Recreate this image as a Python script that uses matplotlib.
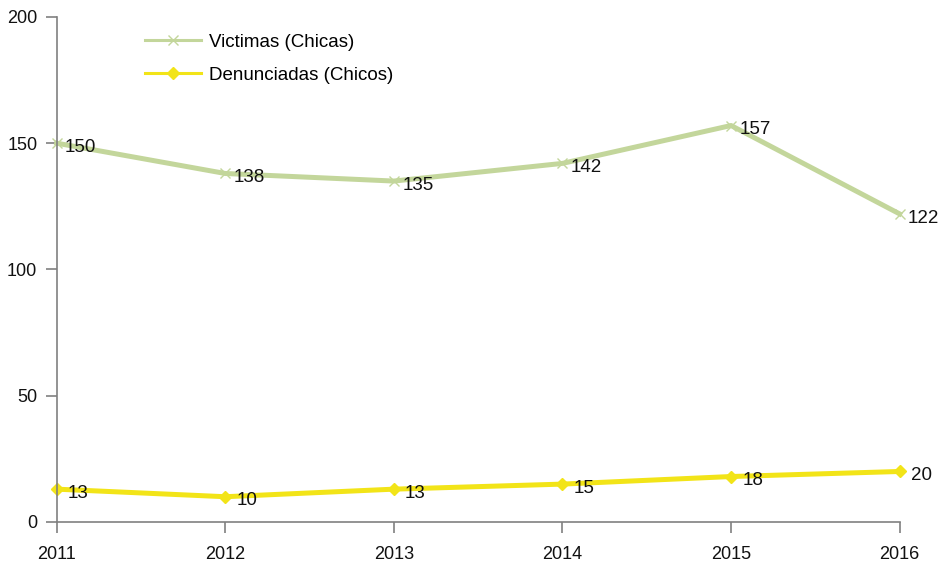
import matplotlib.pyplot as plt

plt.rcParams['font.family'] = ['Liberation Sans', 'DejaVu Sans']

years = [2011, 2012, 2013, 2014, 2015, 2016]
victimas = [150, 138, 135, 142, 157, 122]
denunciadas = [13, 10, 13, 15, 18, 20]

green = '#c3d69b'
yellow = '#f2e418'

fig = plt.figure(figsize=(9.45, 5.64), dpi=100)
ax = fig.add_axes([0.060, 0.0745, 0.892, 0.8955])

ax.plot(years, victimas, color=green, lw=3.6, marker='x', ms=7, mew=1,
        label='Victimas (Chicas)', clip_on=False)
ax.plot(years, denunciadas, color=yellow, lw=3.6, marker='D', ms=6,
        label='Denunciadas (Chicos)', clip_on=False)

for x, y in zip(years, victimas):
    ax.annotate(str(y), (x, y), xytext=(6, -3), textcoords='offset points',
                ha='left', va='center', fontsize=13.5, color='#111111')
for x, y in zip(years, denunciadas):
    ax.annotate(str(y), (x, y), xytext=(8, -3), textcoords='offset points',
                ha='left', va='center', fontsize=13.5, color='#111111')

ax.set_xlim(2011, 2016)
ax.set_ylim(0, 200)
ax.set_xticks(years)
ax.set_yticks([0, 50, 100, 150, 200])

for s in ['top', 'right']:
    ax.spines[s].set_visible(False)
for s in ['left', 'bottom']:
    ax.spines[s].set_color('#808080')
    ax.spines[s].set_linewidth(1.2)
ax.tick_params(axis='both', colors='#808080', labelcolor='#111111',
               labelsize=13, length=8, width=1.2)
ax.tick_params(axis='x', pad=9)
ax.tick_params(axis='y', pad=6)

leg = ax.legend(loc='upper left', bbox_to_anchor=(0.085, 1.0), frameon=False,
                fontsize=13.5, handlelength=3.0, handletextpad=0.4,
                labelspacing=0.85)
# thinner lines in the legend
for h in leg.legend_handles:
    h.set_linewidth(2.2)

plt.savefig('out.png', dpi=100)
